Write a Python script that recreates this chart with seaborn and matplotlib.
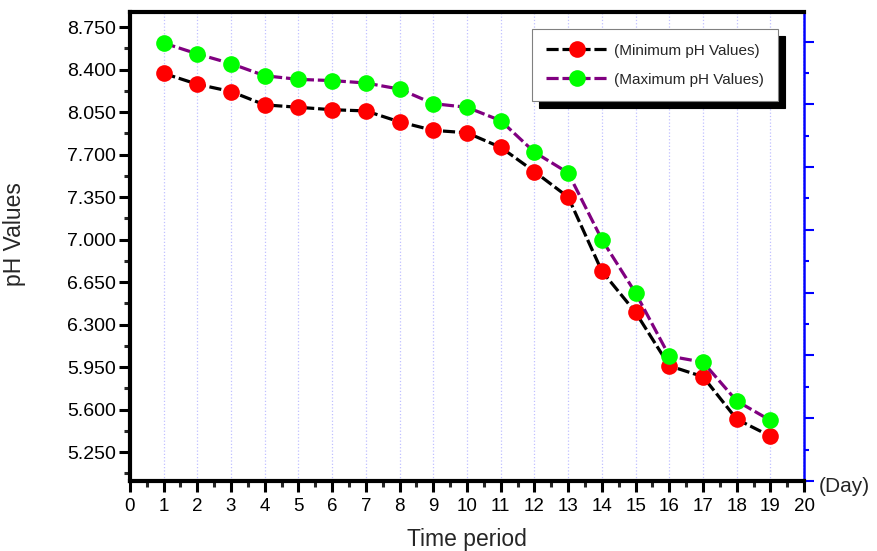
import matplotlib
matplotlib.use("Agg")
import matplotlib.pyplot as plt
from matplotlib.ticker import MultipleLocator, FormatStrFormatter
import seaborn as sns
import pandas as pd

# values
days = list(range(1, 20))
min_ph = [8.37, 8.28, 8.22, 8.11, 8.09, 8.07, 8.06, 7.97, 7.90, 7.88,
          7.76, 7.56, 7.35, 6.74, 6.40, 5.96, 5.87, 5.52, 5.38]
max_ph = [8.62, 8.53, 8.45, 8.35, 8.32, 8.31, 8.29, 8.24, 8.12, 8.09,
          7.98, 7.72, 7.55, 7.00, 6.56, 6.04, 5.99, 5.67, 5.51]
labels = ["(Minimum pH Values)", "(Maximum pH Values)"]

sns.set_style("white")
plt.rcParams['font.family'] = ['Liberation Sans', 'DejaVu Sans']

df = pd.DataFrame({"day": days, "min": min_ph, "max": max_ph})

fig = plt.figure(figsize=(8.77, 5.51), dpi=100)
ax = fig.add_axes([0.148, 0.127, 0.769, 0.851])

# Wykresy
sns.lineplot(data=df, x="day", y="min", ax=ax, color="black", lw=2.3,
             marker="o", markersize=12, markerfacecolor="#ff0000",
             markeredgewidth=0, label=labels[0], zorder=3)
sns.lineplot(data=df, x="day", y="max", ax=ax, color="#800080", lw=2.3,
             marker="o", markersize=12, markerfacecolor="#00ff00",
             markeredgewidth=0, label=labels[1], zorder=3)
for l in ax.get_lines():
    l.set_dashes((3.8, 1.2))

ax.set_xlim(0, 20)
ax.set_ylim(5.011, 8.874)
ax.xaxis.set_major_locator(MultipleLocator(1))
ax.xaxis.set_minor_locator(MultipleLocator(0.5))
ax.yaxis.set_minor_locator(MultipleLocator(0.175))
ax.set_yticks([5.25 + 0.35 * k for k in range(11)])
ax.yaxis.set_major_formatter(FormatStrFormatter('%.3f'))
ax.tick_params(axis='both', which='major', direction='out', length=8, width=2.2,
               colors='black', left=True, bottom=True)
ax.tick_params(axis='both', which='minor', direction='out', length=4, width=2.2,
               left=True, bottom=True)
ax.tick_params(axis='y', labelsize=14, pad=2)
ax.tick_params(axis='x', labelsize=13.5, pad=4)

ax.grid(axis='x', which='major', color='#c0c0ff', ls=':', lw=0.9)
ax.grid(axis='y', visible=False)

for side in ['left', 'bottom', 'top']:
    ax.spines[side].set_linewidth(3)
    ax.spines[side].set_color('black')
ax.spines['right'].set_visible(False)

ax2 = ax.twinx()
ax2.set_ylim(0, 7.468)
ax2.yaxis.set_major_locator(MultipleLocator(1))
ax2.yaxis.set_minor_locator(MultipleLocator(0.5))
ax2.tick_params(axis='y', which='major', direction='out', length=7, width=1.5,
                color='blue', labelright=False, right=True)
ax2.tick_params(axis='y', which='minor', direction='out', length=3.5, width=1.5,
                color='blue', right=True)
for side in ['left', 'bottom', 'top']:
    ax2.spines[side].set_visible(False)
ax2.spines['right'].set_color('blue')
ax2.spines['right'].set_linewidth(1.8)
ax.text(1.022, -0.012, "(Day)", transform=ax.transAxes, fontsize=15,
        ha='left', va='center')

ax.set_xlabel("Time period", fontsize=16.5)
ax.set_ylabel("pH Values", fontsize=16.5)
ax.xaxis.set_label_coords(0.5, -0.1)
ax.yaxis.set_label_coords(-0.154, 0.527)

leg = ax.legend(loc='upper right', bbox_to_anchor=(0.961, 0.964), fontsize=11,
                frameon=True, fancybox=False, edgecolor='#808080',
                handlelength=4.0, handletextpad=0.4, labelspacing=1.0,
                borderpad=0.95, borderaxespad=0,
                shadow={'ox': 5, 'oy': -5, 'facecolor': 'black',
                        'edgecolor': 'black', 'alpha': 1})
leg.get_frame().set_linewidth(0.8)
ax.set_zorder(ax2.get_zorder() + 1)
ax.patch.set_visible(False)

fig.savefig("out.png", dpi=100)
